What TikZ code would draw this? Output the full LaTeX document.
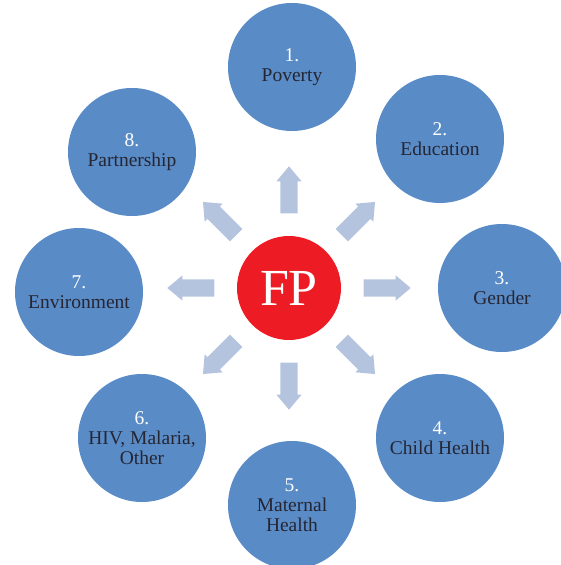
\documentclass[tikz,border=0pt]{standalone}
\usepackage{fontspec}
\setmainfont{Liberation Serif}
\usepackage{tikz}
\usetikzlibrary{positioning, shapes.arrows}

\definecolor{topicblue}{RGB}{89,139,199}
\definecolor{arrowblue}{RGB}{180,196,223}
\definecolor{fpred}{RGB}{237,28,36}
\definecolor{labeldark}{RGB}{38,38,51}

\begin{document}
\begin{tikzpicture}[x=1pt, y=1pt,
			topic/.style={circle, fill=topicblue, minimum size=128pt, inner sep=0pt,
				align=center, text=labeldark, font=\fontsize{19.5}{20}\selectfont},
			hub/.style={circle, fill=fpred, minimum size=104pt, inner sep=0pt,
				text=white, font=\fontsize{52}{52}\selectfont},
			spoke/.style={single arrow, fill=arrowblue, draw=none, inner xsep=0pt,
				inner ysep=8.5pt, minimum height=47pt, single arrow head extend=4pt,
				single arrow tip angle=80}]
			
			\useasboundingbox (-289,-277) rectangle (271,288);
			
			% Central node
			\node[hub] (fp) at (0,0) {FP};
			
			% Topic circles
			\node[topic] (poverty) at (3,221) {{\color{white}1.}\\Poverty};
			\node[topic] (education) at (151,149) {{\color{white}2.}\\Education};
			\node[topic] (gender) at (213,0) {{\color{white}3.}\\Gender};
			\node[topic] (child) at (151,-150) {{\color{white}4.}\\Child Health};
			\node[topic] (maternal) at (3,-217) {{\color{white}5.}\\Maternal\\Health};
			\node[topic] (hiv) at (-147,-150) {{\color{white}6.}\\HIV, Malaria,\\Other};
			\node[topic] (environment) at (-210,-4) {{\color{white}7.}\\Environment};
			\node[topic] (partnership) at (-157,136) {{\color{white}8.}\\Partnership};
			
			% Block arrows round the hub
			\node[spoke, rotate=90] (a1) at (90:93) {};
			\node[spoke, rotate=45] (a2) at (45:93) {};
			\node[spoke, rotate=0] (a3) at (0:93) {};
			\node[spoke, rotate=-45] (a4) at (-45:93) {};
			\node[spoke, rotate=-90] (a5) at (-90:93) {};
			\node[spoke, rotate=-135] (a6) at (-135:93) {};
			\node[spoke, rotate=180] (a7) at (180:93) {};
			\node[spoke, rotate=135] (a8) at (135:93) {};
		\end{tikzpicture}
\end{document}
